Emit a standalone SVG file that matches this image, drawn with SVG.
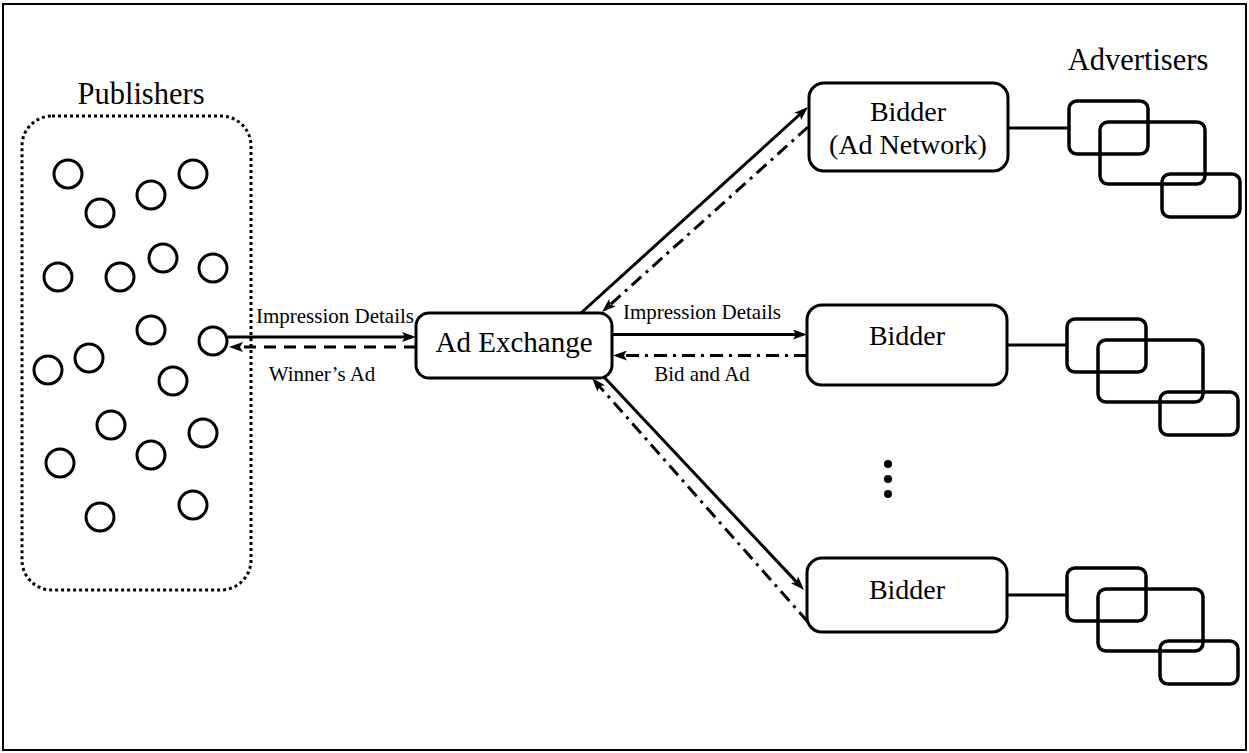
<svg xmlns="http://www.w3.org/2000/svg" width="1249" height="753" viewBox="0 0 1249 753">
  <style>
    .frame { fill: none; stroke: #000; stroke-width: 2; }
    .box { fill: #fff; stroke: #000; stroke-width: 3; }
    .adv { fill: none; stroke: #000; stroke-width: 3.5; }
    .pub { fill: #fff; stroke: #000; stroke-width: 3; }
    .group { fill: none; stroke: #000; stroke-width: 3; stroke-dasharray: 3 3; }
    .solid { fill: none; stroke: #000; stroke-width: 3; }
    .dashed { fill: none; stroke: #000; stroke-width: 3; stroke-dasharray: 12 8; }
    .dashdot { fill: none; stroke: #000; stroke-width: 3; stroke-dasharray: 13 6 3 6; }
    .link { fill: none; stroke: #000; stroke-width: 3; }
    text { font-family: "Liberation Serif", "Times New Roman", serif; fill: #000; text-anchor: middle; }
    .head { font-size: 30.5px; }
    .big { font-size: 29px; }
    .node { font-size: 28px; }
    .small { font-size: 21px; }
  </style>
  <defs>
    <marker id="ah" viewBox="0 0 14 10" refX="8" refY="5" markerWidth="14" markerHeight="10" markerUnits="userSpaceOnUse" orient="auto">
      <path d="M0,0 L14,5 L0,10 L3,5 z" fill="#000"/>
    </marker>
    <!-- three overlapping advertiser cards -->
    <g id="advertisers">
      <rect class="adv" x="0" y="0" width="79" height="53" rx="8"/>
      <rect class="adv" x="31" y="21" width="105" height="62" rx="8"/>
      <rect class="adv" x="93" y="73" width="78" height="43" rx="8"/>
    </g>
  </defs>

  <rect x="0" y="0" width="1249" height="753" fill="#fff"/>
  <rect class="frame" x="3" y="4" width="1243" height="746"/>

  <!-- publishers pool -->
  <g id="publishers">
    <text class="head" x="141" y="104">Publishers</text>
    <rect class="group" x="22" y="116" width="229" height="474" rx="30"/>
    <circle class="pub" cx="68" cy="174" r="14"/>
    <circle class="pub" cx="100" cy="213" r="14"/>
    <circle class="pub" cx="151" cy="195" r="14"/>
    <circle class="pub" cx="193" cy="174" r="14"/>
    <circle class="pub" cx="58" cy="277" r="14"/>
    <circle class="pub" cx="120" cy="277" r="14"/>
    <circle class="pub" cx="163" cy="258" r="14"/>
    <circle class="pub" cx="213" cy="268" r="14"/>
    <circle class="pub" cx="151" cy="330" r="14"/>
    <circle class="pub" cx="213" cy="341" r="14"/>
    <circle class="pub" cx="89" cy="358" r="14"/>
    <circle class="pub" cx="48" cy="370" r="14"/>
    <circle class="pub" cx="173" cy="381" r="14"/>
    <circle class="pub" cx="111" cy="425" r="14"/>
    <circle class="pub" cx="203" cy="433" r="14"/>
    <circle class="pub" cx="151" cy="455" r="14"/>
    <circle class="pub" cx="60" cy="463" r="14"/>
    <circle class="pub" cx="100" cy="517" r="14"/>
    <circle class="pub" cx="193" cy="505" r="14"/>
  </g>

  <!-- connectors -->
  <g id="connectors">
    <line class="solid" x1="228" y1="337" x2="410" y2="337" marker-end="url(#ah)"/>
    <line class="dashed" x1="416" y1="347" x2="235" y2="347" marker-end="url(#ah)"/>
    <line class="solid" x1="612" y1="334.5" x2="801" y2="334.5" marker-end="url(#ah)"/>
    <line class="dashdot" x1="807" y1="355.5" x2="619" y2="355.5" marker-end="url(#ah)"/>
    <line class="solid" x1="581" y1="313" x2="803.6" y2="111" marker-end="url(#ah)"/>
    <line class="dashdot" x1="808" y1="127" x2="606.5" y2="308" marker-end="url(#ah)"/>
    <line class="solid" x1="604" y1="377" x2="799.9" y2="585.6" marker-end="url(#ah)"/>
    <line class="dashdot" x1="808" y1="622" x2="596" y2="382.5" marker-end="url(#ah)"/>
    <line class="link" x1="1008" y1="128" x2="1069" y2="128"/>
    <line class="link" x1="1007" y1="345" x2="1067" y2="345"/>
    <line class="link" x1="1007" y1="595" x2="1067" y2="595"/>
  </g>

  <!-- connector labels -->
  <g id="labels">
    <text class="small" x="335" y="323">Impression Details</text>
    <text class="small" x="322" y="381">Winner’s Ad</text>
    <text class="small" x="702" y="319">Impression Details</text>
    <text class="small" x="702" y="381">Bid and Ad</text>
  </g>

  <g id="ad-exchange">
    <rect class="box" x="416" y="313" width="196" height="65" rx="13"/>
    <text class="big" x="514" y="352">Ad Exchange</text>
  </g>

  <g id="bidder-1">
    <rect class="box" x="809" y="83" width="199" height="88" rx="15"/>
    <text class="node" x="908" y="121">Bidder</text>
    <text class="node" x="908" y="154">(Ad Network)</text>
  </g>

  <g id="bidder-2">
    <rect class="box" x="807" y="305" width="200" height="80" rx="15"/>
    <text class="node" x="907" y="345">Bidder</text>
  </g>

  <g id="bidder-3">
    <rect class="box" x="807" y="558" width="200" height="74" rx="15"/>
    <text class="node" x="907" y="599">Bidder</text>
  </g>

  <!-- more bidders -->
  <g id="ellipsis">
    <circle cx="888" cy="464" r="4"/>
    <circle cx="888" cy="479" r="4"/>
    <circle cx="888" cy="494" r="4"/>
  </g>

  <g id="advertisers-label">
    <text class="head" x="1138" y="70">Advertisers</text>
  </g>
  <g id="advertisers-1"><use href="#advertisers" x="1069" y="101"/></g>
  <g id="advertisers-2"><use href="#advertisers" x="1067" y="319"/></g>
  <g id="advertisers-3"><use href="#advertisers" x="1067" y="568"/></g>
</svg>
